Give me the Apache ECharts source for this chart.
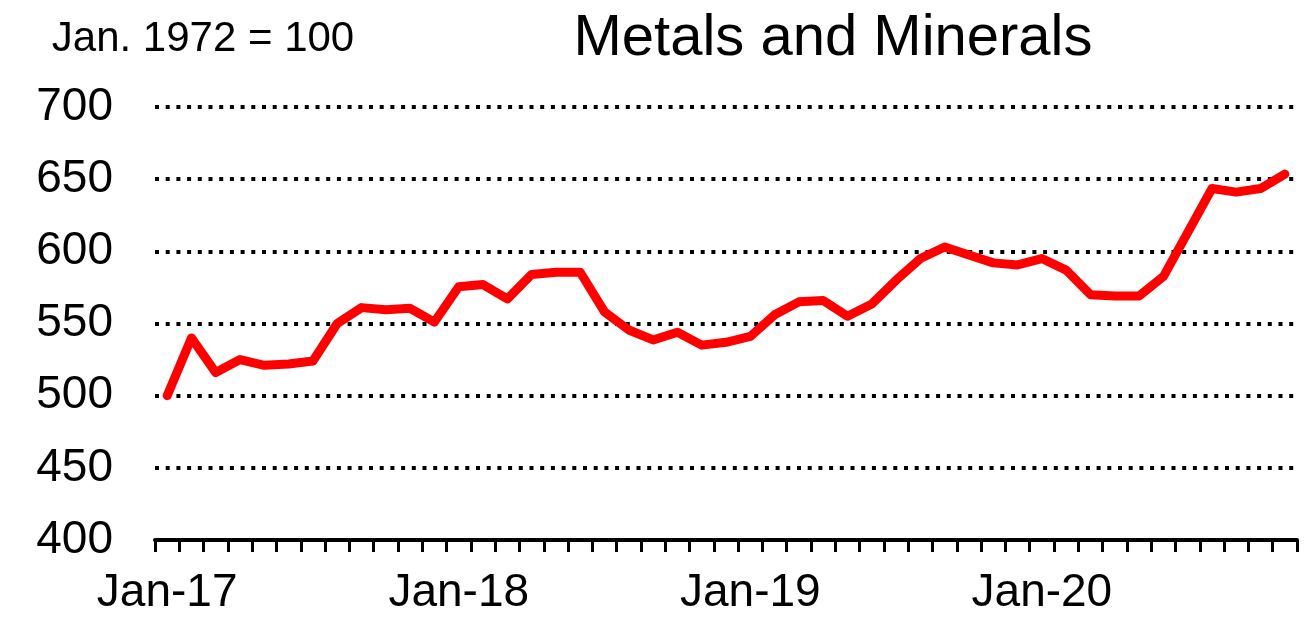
<!DOCTYPE html>
<html>
<head>
<meta charset="utf-8">
<script src="https://cdn.jsdelivr.net/npm/echarts@6/dist/echarts.min.js"></script>
<style>
html,body{margin:0;padding:0;background:#fff;}
#chart{width:1306px;height:618px;}
</style>
</head>
<body>
<div id="chart"></div>
<script>
const months = ['Jan','Feb','Mar','Apr','May','Jun','Jul','Aug','Sep','Oct','Nov','Dec'];
const years = ['17','18','19','20'];
const categories = [];
for (const y of years) for (const m of months) categories.push(m + '-' + y);
categories.length = 47; // Jan-17 .. Nov-20

const values = [
  500, 540, 516, 525, 521, 522, 524, 550, 561, 559.5, 560.5, 551,
  575.5, 577, 567, 584, 585.5, 585.5, 558, 545.5, 538.6, 544, 535, 537,
  541, 556, 565, 566, 555, 563.5, 580, 595, 603, 597.5, 592, 590.6,
  595, 587, 570, 569, 569, 582.5, 613, 643.5, 641, 643.5, 653.5
];

const yTicks = { min: 400, max: 700, interval: 50 };
const titleText = 'Metals and Minerals';
const subtitleText = 'Jan. 1972 = 100';

const chart = echarts.init(document.getElementById('chart'), null, { renderer: 'canvas' });
const font = 'Liberation Sans, Arial, sans-serif';
chart.setOption({
  animation: false,
  backgroundColor: '#ffffff',
  title: [
    { text: titleText, left: 828, top: 5, textAlign: 'center',
      textStyle: { fontFamily: font, fontSize: 58, fontWeight: 'normal', color: '#000' } },
    { text: subtitleText, left: 198, top: 13, textAlign: 'center',
      textStyle: { fontFamily: font, fontSize: 42, fontWeight: 'normal', color: '#000' } }
  ],
  grid: { left: 155, right: 9, top: 107, bottom: 78, containLabel: false },
  xAxis: {
    type: 'category',
    data: categories,
    boundaryGap: true,
    axisLine: { show: true, lineStyle: { color: '#000', width: 4 } },
    axisTick: { show: true, inside: false, length: 12, interval: 0, lineStyle: { color: '#000', width: 3 } },
    axisLabel: {
      interval: function (i) { return i % 12 === 0; },
      margin: 30,
      fontFamily: font, fontSize: 46, color: '#000'
    },
    splitLine: { show: false }
  },
  yAxis: {
    type: 'value',
    min: yTicks.min, max: yTicks.max, interval: yTicks.interval,
    axisLine: { show: false },
    axisTick: { show: false },
    axisLabel: { margin: 42, fontFamily: font, fontSize: 46, color: '#000' },
    splitLine: { show: true, lineStyle: { color: '#000', width: 4, type: [4, 6.7] } }
  },
  series: [{
    type: 'line',
    data: values,
    showSymbol: false,
    symbol: 'none',
    lineStyle: { color: '#ff0000', width: 9, cap: 'round', join: 'round' },
    itemStyle: { color: '#ff0000' }
  }]
});
</script>
</body>
</html>
